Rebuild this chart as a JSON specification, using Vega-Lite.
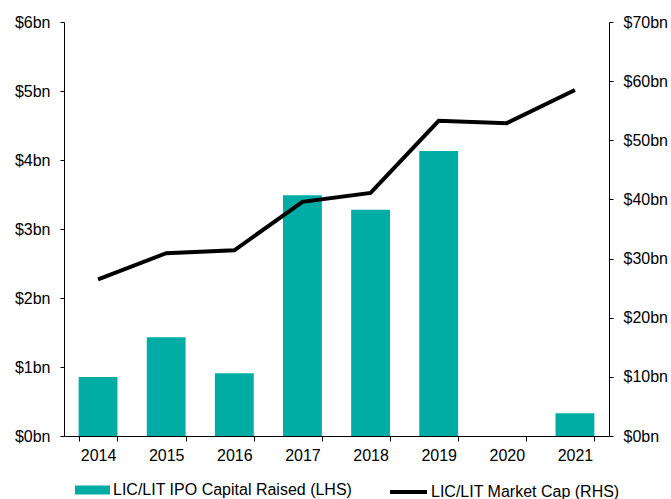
{
  "$schema": "https://vega.github.io/schema/vega-lite/v6.json",
  "width": 545,
  "height": 414,
  "autosize": {"type": "none"},
  "padding": {"left": 64, "top": 22, "right": 62, "bottom": 63},
  "config": {
    "font": "Liberation Sans",
    "view": {"stroke": null},
    "axis": {
      "grid": false,
      "domainColor": "#000",
      "tickColor": "#000",
      "labelColor": "#000",
      "labelFont": "Liberation Sans",
      "labelFontSize": 16,
      "title": null
    },
    "legend": {
      "labelFont": "Liberation Sans",
      "labelFontSize": 16,
      "labelColor": "#000",
      "labelLimit": 400,
      "padding": 0,
      "title": null
    }
  },
  "data": {
    "values": [
      {"year": "2014", "ipo": 0.855, "mcap": 26.5},
      {"year": "2015", "ipo": 1.43, "mcap": 30.9},
      {"year": "2016", "ipo": 0.91, "mcap": 31.4},
      {"year": "2017", "ipo": 3.49, "mcap": 39.6},
      {"year": "2018", "ipo": 3.28, "mcap": 41.1},
      {"year": "2019", "ipo": 4.13, "mcap": 53.3},
      {"year": "2020", "ipo": 0, "mcap": 52.9},
      {"year": "2021", "ipo": 0.33, "mcap": 58.5}
    ]
  },
  "encoding": {
    "x": {
      "field": "year",
      "type": "ordinal",
      "scale": {"paddingInner": 0.43, "paddingOuter": 0.215},
      "axis": {"labelAngle": 0, "tickBand": "extent", "tickSize": 5, "labelPadding": 6}
    }
  },
  "layer": [
    {
      "mark": {"type": "bar"},
      "encoding": {
        "y": {
          "field": "ipo",
          "type": "quantitative",
          "scale": {"domain": [0, 6]},
          "axis": {"values": [0, 1, 2, 3, 4, 5, 6], "labelExpr": "'$' + datum.value + 'bn'", "tickSize": 4, "labelPadding": 10}
        },
        "color": {
          "datum": "LIC/LIT IPO Capital Raised (LHS)",
          "scale": {"range": ["#00ACA4"]},
          "legend": {
            "orient": "none",
            "legendX": 11,
            "legendY": 450.5,
            "symbolType": "M-1,-0.257H1V0.257H-1Z",
            "symbolSize": 1225,
            "symbolStrokeWidth": 0,
            "labelOffset": 3
          }
        }
      }
    },
    {
      "mark": {"type": "line", "strokeWidth": 4},
      "encoding": {
        "y": {
          "field": "mcap",
          "type": "quantitative",
          "scale": {"domain": [0, 70]},
          "axis": {"orient": "right", "values": [0, 10, 20, 30, 40, 50, 60, 70], "labelExpr": "'$' + datum.value + 'bn'", "tickSize": 4, "labelPadding": 10}
        },
        "stroke": {
          "datum": "LIC/LIT Market Cap (RHS)",
          "scale": {"range": ["#000000"]},
          "legend": {
            "orient": "none",
            "legendX": 324,
            "legendY": 449.5,
            "symbolType": "stroke",
            "symbolSize": 1369,
            "symbolStrokeWidth": 4,
            "labelOffset": 2
          }
        }
      }
    }
  ],
  "resolve": {"scale": {"y": "independent"}}
}
